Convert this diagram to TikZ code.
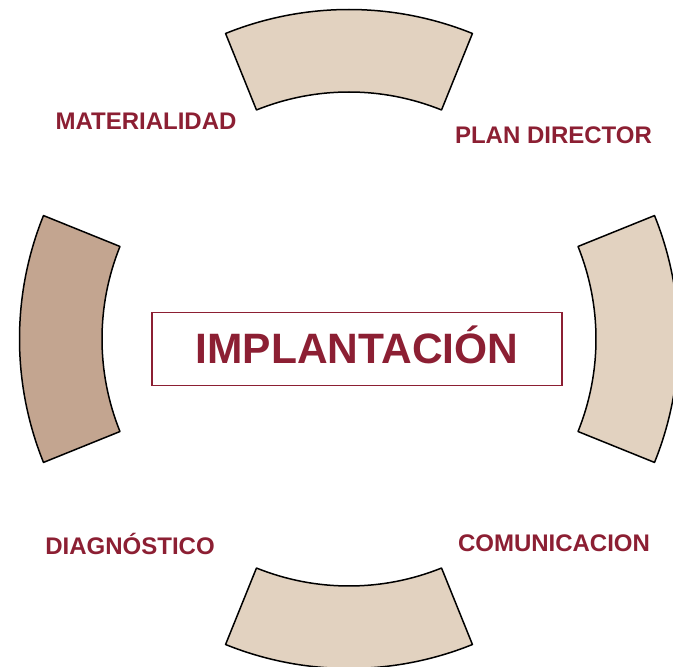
\documentclass[tikz,border=0pt]{standalone}
\usepackage{fontspec}
\setmainfont{Liberation Sans}
\definecolor{sand}{HTML}{E2D2C0}
\definecolor{clay}{HTML}{C3A590}
\definecolor{wine}{HTML}{8C1F33}

\begin{document}
\begin{tikzpicture}[x=1pt,y=1pt,
  sector/.style={draw=black,line width=1.5pt,line join=round},
  lbl/.style={text=wine,font=\fontsize{24}{26}\selectfont\bfseries,anchor=base,inner sep=0pt},
  titlebox/.style={draw=wine,line width=1.5pt,text=wine,font=\fontsize{42.5}{46}\selectfont\bfseries,
    minimum width=410pt,minimum height=73pt,text height=30pt,text depth=0pt,inner sep=0pt}]
\useasboundingbox (0,0) rectangle (673,667);
\clip (0,0) rectangle (673,667);
\coordinate (c) at (349,328);
% the four ring pieces
\foreach \a/\col in {90/sand,0/sand,270/sand,180/clay}
  \draw[sector,fill=\col] ([shift={(\a-22:247)}]c) arc[start angle=\a-22,end angle=\a+22,radius=247]
    -- ([shift={(\a+22:329.5)}]c) arc[start angle=\a+22,end angle=\a-22,radius=329.5] -- cycle;
\node[titlebox] (impl) at (357,318) {IMPLANTACIÓN};
\node[lbl] (mat) at (146,537) {MATERIALIDAD};
\node[lbl] (plan) at (553.5,523) {PLAN DIRECTOR};
\node[lbl] (diag) at (130,112) {DIAGNÓSTICO};
\node[lbl] (com) at (554,115) {COMUNICACION};
\end{tikzpicture}
\end{document}
